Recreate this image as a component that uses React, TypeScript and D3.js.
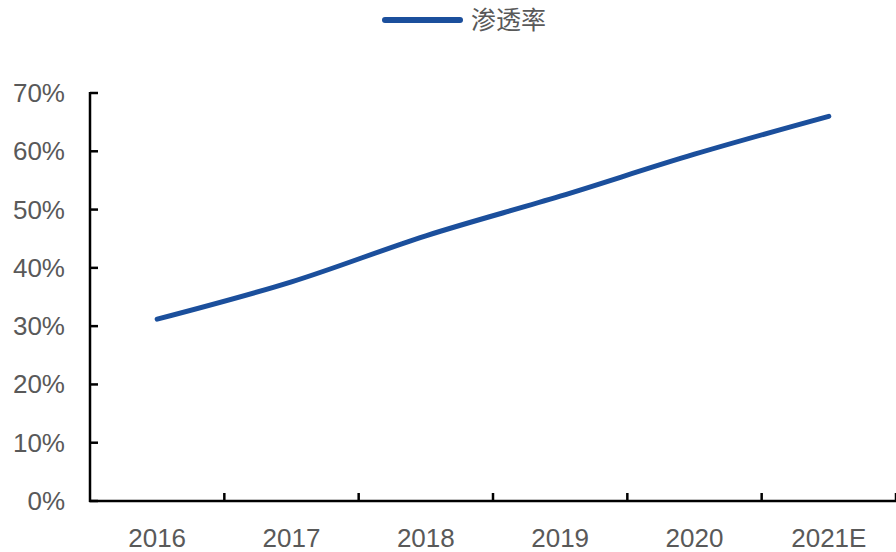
import React from "react";
import * as d3 from "d3";

const categories = ["2016", "2017", "2018", "2019", "2020", "2021E"];
const penetration = [0.312, 0.376, 0.455, 0.523, 0.595, 0.66];
const yTicks = [0, 0.1, 0.2, 0.3, 0.4, 0.5, 0.6, 0.7];
const seriesName = "渗透率";

export default function App() {
  const W = 896, H = 552;
  const left = 90, right = 896, top = 93, bottom = 501;
  const x = d3.scaleBand<string>().domain(categories).range([left, right]);
  const y = d3.scaleLinear().domain([0, 0.7]).range([bottom, top]);
  const line = d3
    .line<number>()
    .x((_, i) => (x(categories[i]) as number) + x.bandwidth() / 2)
    .y((d) => y(d))
    .curve(d3.curveMonotoneX);
  const color = "#1b4f9c";
  const textColor = "#595959";
  const font = "Liberation Sans, Arial, sans-serif";
  return (
    <svg width={W} height={H} style={{ position: "absolute", left: 0, top: 0 }}>
      <rect width={W} height={H} fill="#fff" />
      {/* legend */}
      <line x1={385} x2={460} y1={20} y2={20} stroke={color} strokeWidth={6} strokeLinecap="round" />
      <text x={471} y={29} fontSize={25} fill={textColor} fontFamily="Noto Sans CJK SC, sans-serif">
        {seriesName}
      </text>
      {/* y axis */}
      <line x1={left} x2={left} y1={top - 1} y2={bottom + 1} stroke="#000" strokeWidth={2.5} />
      {yTicks.map((t) => (
        <g key={t}>
          <line x1={left} x2={left + 8} y1={y(t)} y2={y(t)} stroke="#000" strokeWidth={2.5} />
          <text x={65} y={y(t) + 9} textAnchor="end" fontSize={26} fill={textColor} fontFamily={font}>
            {d3.format(".0%")(t)}
          </text>
        </g>
      ))}
      {/* x axis */}
      <line x1={left - 1} x2={right} y1={bottom} y2={bottom} stroke="#000" strokeWidth={2.5} />
      {categories.map((c, i) => (
        <g key={c}>
          <line
            x1={(x(c) as number) + x.bandwidth()}
            x2={(x(c) as number) + x.bandwidth()}
            y1={bottom}
            y2={bottom - 8}
            stroke="#000"
            strokeWidth={2.5}
          />
          <text
            x={(x(c) as number) + x.bandwidth() / 2}
            y={547}
            textAnchor="middle"
            fontSize={26}
            fill={textColor}
            fontFamily={font}
          >
            {c}
          </text>
        </g>
      ))}
      <path d={line(penetration) || ""} fill="none" stroke={color} strokeWidth={5} strokeLinecap="round" />
    </svg>
  );
}
